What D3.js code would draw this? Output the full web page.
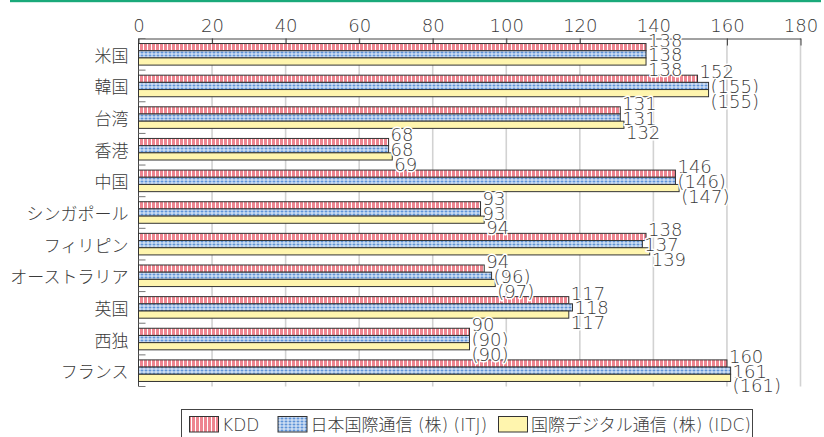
<!DOCTYPE html>
<html>
<head>
<meta charset="utf-8">
<script src="https://cdn.jsdelivr.net/npm/d3@7"></script>
<style>
  html, body { margin: 0; padding: 0; background: #fff; }
  svg { display: block; }
  text { font-family: "DejaVu Sans", "Noto Sans CJK JP", sans-serif; font-weight: 200; fill: #3a3a3a; }
</style>
</head>
<body>
<svg id="chart" width="824" height="437"></svg>
<script>
// Countries (top to bottom)
const categories = ["米国", "韓国", "台湾", "香港", "中国", "シンガポール", "フィリピン", "オーストラリア", "英国", "西独", "フランス"];

// Carrier names shown in the legend
const seriesNames = ["KDD", "日本国際通信 (株) (ITJ)", "国際デジタル通信 (株) (IDC)"];

// Values per carrier
const kddValues = [138, 152, 131, 68, 146, 93, 138, 94, 117, 90, 160];
const itjValues = [138, 155, 131, 68, 146, 93, 137, 96, 118, 90, 161];
const idcValues = [138, 155, 132, 69, 147, 94, 139, 97, 117, 90, 161];

// Values printed in parentheses
const kddBracketed = [false, false, false, false, false, false, false, false, false, false, false];
const itjBracketed = [false, true, false, false, true, false, false, true, false, true, false];
const idcBracketed = [false, true, false, false, true, false, false, true, false, true, true];

// Axis ticks
const xTicks = [0, 20, 40, 60, 80, 100, 120, 140, 160, 180];

const seriesValues = [kddValues, itjValues, idcValues];
const seriesBracketed = [kddBracketed, itjBracketed, idcBracketed];
const seriesFills = ["url(#pat-kdd)", "url(#pat-itj)", "#fff5ae"];

const svg = d3.select("#chart");

// Fill patterns
const defs = svg.append("defs");
const pk = defs.append("pattern").attr("id", "pat-kdd").attr("patternUnits", "userSpaceOnUse")
  .attr("width", 4).attr("height", 4);
pk.append("rect").attr("width", 4).attr("height", 4).attr("fill", "#ee8590");
pk.append("rect").attr("x", 3).attr("width", 1).attr("height", 4).attr("fill", "#ffffff");

const pi = defs.append("pattern").attr("id", "pat-itj").attr("patternUnits", "userSpaceOnUse")
  .attr("width", 4).attr("height", 3);
pi.append("rect").attr("width", 4).attr("height", 3).attr("fill", "#eef3fb");
pi.append("rect").attr("x", 0.5).attr("y", 0.5).attr("width", 3).attr("height", 2).attr("fill", "#5f93d8");

// Top accent rule
svg.append("rect").attr("x", 10).attr("y", 0).attr("width", 811).attr("height", 2.2).attr("fill", "#1aa97a");

// Scales
const x = d3.scaleLinear().domain([0, 180]).range([138.5, 800.5]);
const y = d3.scaleBand().domain(categories).range([38.5, 386.5]).padding(0);
const ys = d3.scaleBand().domain(d3.range(3)).range([0, y.bandwidth()]).paddingInner(0).paddingOuter(0.7);

// Gridlines
svg.append("g").selectAll("line").data(xTicks.filter(d => d > 0)).join("line")
  .attr("x1", d => x(d)).attr("x2", d => x(d))
  .attr("y1", y.range()[0]).attr("y2", y.range()[1])
  .attr("stroke", "#d2d2d2").attr("stroke-width", 1.6);

// Top axis
const xAxis = svg.append("g").attr("transform", `translate(0,${y.range()[0]})`)
  .call(d3.axisTop(x).tickValues(xTicks).tickSizeInner(-7).tickSizeOuter(0).tickPadding(7));
xAxis.select(".domain").attr("stroke", "#444");
xAxis.selectAll(".tick line").attr("stroke", "#444");
xAxis.selectAll(".tick text").style("font-size", "18px").attr("fill", "#3a3a3a")
  .style("font-family", "\"DejaVu Sans\", \"Noto Sans CJK JP\", sans-serif").style("font-weight", 200);

// Left axis with ticks at band boundaries
const bounds = categories.map(c => y(c)).concat([y.range()[1]]);
const yAxis = svg.append("g");
yAxis.append("line").attr("x1", x(0)).attr("x2", x(0))
  .attr("y1", y.range()[0]).attr("y2", y.range()[1]).attr("stroke", "#444");
yAxis.selectAll("line.tk").data(bounds).join("line").attr("class", "tk")
  .attr("x1", x(0)).attr("x2", x(0) + 7).attr("y1", d => d).attr("y2", d => d)
  .attr("stroke", "#777");
yAxis.selectAll("text").data(categories).join("text")
  .attr("x", 128.5).attr("y", d => y(d) + y.bandwidth() / 2)
  .attr("text-anchor", "end").attr("dominant-baseline", "central")
  .style("font-family", "\"Noto Sans CJK JP\", sans-serif").style("font-weight", 300)
  .style("font-size", "17px").text(d => d);

// Bars
const barRows = [];
categories.forEach((c, ci) => {
  seriesValues.forEach((vals, si) => {
    barRows.push({ c, si, v: vals[ci], br: seriesBracketed[si][ci] });
  });
});

svg.append("g").selectAll("rect").data(barRows).join("rect")
  .attr("x", x(0))
  .attr("y", d => y(d.c) + ys(d.si))
  .attr("width", d => x(d.v) - x(0))
  .attr("height", ys.bandwidth())
  .attr("fill", d => seriesFills[d.si])
  .attr("stroke", "#333").attr("stroke-width", 1);

// Value labels, stacked beside each bar group
svg.append("g").selectAll("text").data(barRows).join("text")
  .attr("x", d => x(d.v) + 2)
  .attr("y", d => y(d.c) + y.bandwidth() / 2 + (d.si - 1) * 14.8 + 0.5)
  .attr("dominant-baseline", "central")
  .style("font-size", "18px")
  .attr("stroke", "#fff").attr("stroke-width", 3).attr("paint-order", "stroke")
  .attr("stroke-linejoin", "round")
  .text(d => d.br ? `(${d.v})` : `${d.v}`);

// Legend
const lg = svg.append("g");
lg.append("rect").attr("x", 181.5).attr("y", 409.5).attr("width", 571).attr("height", 40)
  .attr("fill", "#fff").attr("stroke", "#444");
const legendItems = [
  { name: seriesNames[0], fill: "url(#pat-kdd)", sx: 189 },
  { name: seriesNames[1], fill: "url(#pat-itj)", sx: 277.5 },
  { name: seriesNames[2], fill: "#fff5ae", sx: 498 }
];
legendItems.forEach(it => {
  lg.append("rect").attr("x", it.sx + 0.5).attr("y", 416.5).attr("width", 29).attr("height", 15.5)
    .attr("fill", it.fill).attr("stroke", "#333");
  lg.append("text").attr("x", it.sx + 33).attr("y", 424.5).attr("dominant-baseline", "central")
    .style("font-size", "17px").text(it.name);
});
</script>
</body>
</html>
